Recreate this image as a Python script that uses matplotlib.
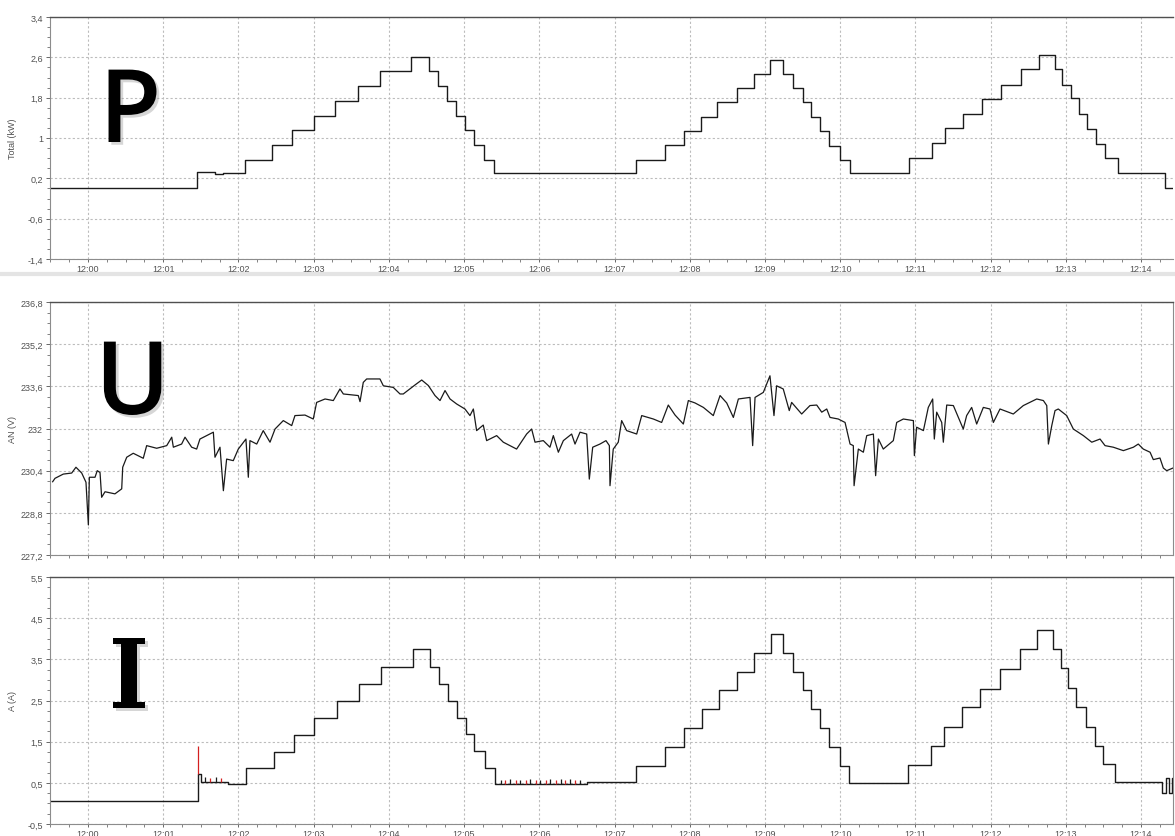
import matplotlib
matplotlib.use("Agg")
import matplotlib.pyplot as plt
import matplotlib.patheffects as pe
from matplotlib.ticker import FixedLocator, FuncFormatter, MultipleLocator, AutoMinorLocator
from matplotlib.lines import Line2D

# time axis: seconds after 12:00:00
T_MIN, T_MAX = -30.3, 865.5
X_TICKS = [0, 60, 120, 180, 240, 300, 360, 420, 480, 540, 600, 660, 720, 780, 840]

# P - total power (kW), step changes (time, new level)
P_T = [-30.3, 87, 101, 108, 125, 146.5, 163, 180, 197, 215, 233, 258, 272, 279.5,
       286, 293.5, 300.5, 308, 316, 324, 437.5, 460, 475.5, 489, 502, 517.5, 531,
       544, 554.5, 562.5, 570, 577, 584, 591, 600, 608, 655, 673.5, 684, 698, 713,
       728, 744, 758.5, 771, 777, 784, 790.5, 797, 804, 811, 821.5, 859.5, 865.5]
P_V = [0.0, 0.33, 0.28, 0.31, 0.56, 0.86, 1.16, 1.44, 1.74, 2.03, 2.33, 2.60, 2.32, 2.03,
       1.74, 1.44, 1.16, 0.87, 0.57, 0.30, 0.56, 0.86, 1.13, 1.42, 1.71, 1.99, 2.27,
       2.55, 2.27, 1.99, 1.71, 1.42, 1.13, 0.85, 0.56, 0.30, 0.60, 0.90, 1.19, 1.47, 1.77,
       2.06, 2.37, 2.65, 2.37, 2.06, 1.79, 1.47, 1.18, 0.88, 0.60, 0.31, 0.0, 0.0]

# U - phase voltage AN (V)
U_T = [-28.2, -26.3, -19.7, -13.0, -9.6, -5.0, -1.6, 0.3, 1.1, 5.6, 7.4, 9.6, 10.9, 13.6,
       21.5, 26.9, 27.7, 30.9, 36.1, 44.1, 46.8, 54.8, 62.8, 66.8, 68.1, 74.7, 77.4, 82.7,
       86.7, 89.3, 100, 101.3, 105.3, 108, 110.6, 115.9, 119.9, 126, 127.9, 129.2, 134.6,
       139.8, 145.2, 149.2, 155.8, 162.5, 165.1, 173.1, 179.7, 182.4, 189.1, 195.7, 201,
       203.7, 215.6, 217, 219.6, 222.3, 232.9, 235.6, 243.5, 248.9,
       251.5, 260.8, 266.2, 271.5, 276.8, 280.8, 284.8, 288.8, 294.1, 300.7, 304.7, 307.4,
       310, 315.3, 318, 326, 331.3, 341.9, 349.9, 353.9, 356.6, 363.2, 368.5, 371.2, 375.2,
       379.2, 385.8, 388.5, 392.5, 397.8, 399.9, 402.6, 408.4, 413.2, 415.9, 416.4, 419,
       423, 425.7, 429.7, 437.7, 441.7, 451, 457.6, 462.9, 468.3, 474.9, 478.9, 484.2,
       490.9, 498.8, 504.2, 509.5, 514.8, 518.8, 528.1, 530.2, 532.1, 538.7, 544, 547.2,
       549.3, 554.6, 559.4,
       561.3, 569.3, 575.9, 581.3, 585.3, 589.3, 591.9, 598.5, 603.9, 607.9, 610.5, 611.1,
       614.5, 618.5, 621.2, 626.5, 628.3, 630.5, 634.4, 642.4, 645.1, 650.4, 658.4, 659.2,
       661, 666.4, 670.3, 673.8, 675.1, 677, 681, 682.3, 685, 690.3, 698.2, 700.9, 704.9,
       708.9, 714.2, 719.5, 722.2, 727.5, 738.1, 746.1, 756.8, 762.1, 764.8, 766.1, 768.8,
       771.4, 774, 780.7, 786, 794, 800.7, 807.3, 811.3, 817.9, 825.9, 833.9, 837.8, 841.8,
       847.2, 849.8, 855.1, 857.8, 860.5, 865.5]
U_V = [229.98, 230.11, 230.27, 230.31, 230.53, 230.31, 229.96, 228.34, 230.15, 230.15, 230.40,
       230.33, 229.39, 229.60, 229.52, 229.71, 230.53, 230.91, 231.06, 230.87, 231.35, 231.25,
       231.35, 231.67, 231.29, 231.41, 231.67, 231.29, 231.22, 231.60, 231.86, 230.91, 231.29,
       229.64, 230.84, 230.78, 231.22, 231.60, 230.15, 231.54, 231.41, 231.92, 231.48, 231.98,
       232.30, 232.11, 232.49, 232.51, 232.36, 232.99, 233.12, 233.06, 233.50, 233.31, 233.25,
       233.02, 233.75, 233.88, 233.88, 233.62, 233.56, 233.31,
       233.31, 233.65, 233.84, 233.63, 233.25, 233.06, 233.44, 233.12, 232.93, 232.74, 232.49,
       232.74, 231.92, 232.13, 231.54, 231.73, 231.48, 231.22, 231.79, 231.98, 231.48, 231.54,
       231.29, 231.73, 231.10, 231.54, 231.79, 231.41, 231.86, 231.79, 230.08, 231.29, 231.41,
       231.54, 231.35, 229.83, 231.22, 231.48, 232.30, 231.92, 231.79, 232.49, 232.36, 232.23,
       232.89, 232.51, 232.17, 233.06, 232.97, 232.80, 232.49, 233.25, 232.97, 232.42, 233.12,
       233.18, 231.35, 233.18, 233.37, 234.00, 232.49, 233.62, 233.50, 232.68,
       232.99, 232.55, 232.87, 232.89, 232.62, 232.74, 232.42, 232.36, 232.23, 231.41, 231.35,
       229.83, 231.22, 231.10, 231.73, 231.79, 230.21, 231.60, 231.22, 231.54, 232.23, 232.36,
       232.30, 230.97, 232.05, 231.92, 232.80, 233.12, 231.60, 232.62, 232.23, 231.48, 232.89,
       232.87, 231.98, 232.49, 232.80, 232.17, 232.80, 232.74, 232.23, 232.74, 232.55, 232.87,
       233.12, 233.06, 232.87, 231.41, 232.11, 232.68, 232.74, 232.49, 231.98, 231.73, 231.48,
       231.60, 231.35, 231.29, 231.16, 231.29, 231.41, 231.22, 231.10, 230.82, 230.88, 230.50,
       230.40, 230.50]

# I - current (A), step changes (time, new level)
I_T = [-30.3, 87.5, 90, 100, 112, 126, 148, 164.5, 180.5, 199, 216, 233.5, 259.5, 273,
       280, 287, 294, 301.5, 308, 316.5, 324.5, 398, 437.5, 460, 475.5, 489.5, 503, 517.5,
       531, 545, 554.5, 562.5, 570, 577, 584, 591, 600, 607, 654, 672.5, 683, 697.5, 711.5,
       727.5, 743.5, 757, 769.5, 776, 782, 788.5, 796, 803, 810, 819, 857, 860, 862, 864.5,
       865.5]
I_V = [0.07, 0.72, 0.53, 0.52, 0.47, 0.86, 1.26, 1.67, 2.07, 2.49, 2.89, 3.32, 3.76, 3.32,
       2.91, 2.49, 2.08, 1.68, 1.28, 0.86, 0.47, 0.51, 0.92, 1.38, 1.83, 2.29, 2.75, 3.19,
       3.66, 4.12, 3.66, 3.20, 2.75, 2.29, 1.83, 1.38, 0.92, 0.49, 0.94, 1.40, 1.86, 2.33, 2.79,
       3.27, 3.74, 4.22, 3.76, 3.30, 2.81, 2.34, 1.86, 1.40, 0.95, 0.53, 0.25, 0.62, 0.25, 0.62,
       0.62]

# short spikes on the current trace
I_SPK_T = [87.5, 93, 97, 102, 106, 329.2, 332.6, 336.6, 341.2, 344.6, 349.2, 352.6, 357.1,
           360.6, 365.1, 368.6, 373.1, 377.1, 380.5, 384.5, 388.5, 392.5]
I_SPK_LO = [0.72, 0.53, 0.53, 0.52, 0.52, 0.47, 0.47, 0.47, 0.47, 0.47, 0.47, 0.47, 0.47,
            0.47, 0.47, 0.47, 0.47, 0.47, 0.47, 0.47, 0.47, 0.47]
I_SPK_HI = [1.40, 0.65, 0.62, 0.63, 0.62, 0.58, 0.56, 0.59, 0.57, 0.58, 0.56, 0.59, 0.57,
            0.58, 0.56, 0.60, 0.58, 0.60, 0.57, 0.59, 0.58, 0.57]

P_TICKS = [-1.4, -0.6, 0.2, 1.0, 1.8, 2.6, 3.4]
U_TICKS = [227.2, 228.8, 230.4, 232.0, 233.6, 235.2, 236.8]
I_TICKS = [-0.5, 0.5, 1.5, 2.5, 3.5, 4.5, 5.5]

W, H = 1175, 837
TICK_COLOR = "#505050"
GRID_COLOR = "#bcbcbc"
LINE_COLOR = "#1a1a1a"


def comma(v, pos):
    return "{:g}".format(round(v, 2)).replace(".", ",")


def clock(t, pos):
    return "12:%02d" % int(round(t / 60.0))


def setup_axis(ax, ticks, ylabel, show_xlabels):
    ax.set_xlim(T_MIN, T_MAX)
    ax.set_ylim(ticks[0], ticks[-1])
    ax.yaxis.set_major_locator(FixedLocator(ticks))
    ax.yaxis.set_major_formatter(FuncFormatter(comma))
    ax.yaxis.set_minor_locator(AutoMinorLocator(4))
    ax.xaxis.set_major_locator(FixedLocator(X_TICKS))
    ax.xaxis.set_minor_locator(MultipleLocator(15))
    if show_xlabels:
        ax.xaxis.set_major_formatter(FuncFormatter(clock))
    else:
        ax.set_xticklabels([])
    ax.tick_params(axis="both", which="major", labelsize=6.5, colors=TICK_COLOR,
                   length=3, width=0.6, pad=2)
    ax.tick_params(axis="x", which="major", length=2.5, pad=1)
    ax.tick_params(axis="both", which="minor", length=2, width=0.5, colors=TICK_COLOR)
    ax.grid(True, which="major", color=GRID_COLOR, linestyle=(0, (2, 2)), linewidth=0.8)
    for side in ["left", "bottom", "right"]:
        ax.spines[side].set_color("#8c8c8c")
        ax.spines[side].set_linewidth(0.8)
    ax.spines["top"].set_color("#505050")
    ax.spines["top"].set_linewidth(1.0)
    ax.set_ylabel(ylabel, fontsize=6.5, color=TICK_COLOR)
    ax.yaxis.set_label_coords(-33.0 / 1123, 0.5)


def big_letter(fig, s, x, y, **kw):
    fig.text(x / W, 1 - y / H, s, ha="left", va="baseline", color="black",
             path_effects=[pe.withSimplePatchShadow(offset=(2, -2), shadow_rgbFace="#999999", alpha=0.4)],
             **kw)


def main():
    plt.rcParams["font.family"] = ["Liberation Sans", "DejaVu Sans"]
    fig = plt.figure(figsize=(W / 100, H / 100), dpi=100)

    left = 50 / W
    width = (1173 - 50) / W
    ax_p = fig.add_axes([left, 1 - 260 / H, width, (260 - 18) / H])
    ax_u = fig.add_axes([left, 1 - 556 / H, width, (556 - 303) / H])
    ax_i = fig.add_axes([left, 1 - 825 / H, width, (825 - 578) / H])

    setup_axis(ax_p, P_TICKS, "Total (kW)", True)
    setup_axis(ax_u, U_TICKS, "AN (V)", False)
    setup_axis(ax_i, I_TICKS, "A (A)", True)
    ax_p.spines["right"].set_visible(False)

    ax_p.plot(P_T, P_V, drawstyle="steps-post", color=LINE_COLOR, lw=1.0)
    ax_u.plot(U_T, U_V, color=LINE_COLOR, lw=0.9)
    ax_i.plot(I_T, I_V, drawstyle="steps-post", color=LINE_COLOR, lw=1.0)
    cols = ["#d42020" if k % 2 == 0 else LINE_COLOR for k in range(len(I_SPK_T))]
    ax_i.vlines(I_SPK_T, I_SPK_LO, I_SPK_HI, colors=cols, lw=0.9)

    # light strip separating the power panel from the rest
    fig.add_artist(Line2D([0, 1], [1 - 275 / H, 1 - 275 / H], transform=fig.transFigure,
                          color="#e4e4e4", lw=3))

    big_letter(fig, "P", 99, 143, fontsize=73, family="Open Sans", fontweight="semibold")
    big_letter(fig, "U", 95, 415, fontsize=73, family="Open Sans", fontweight="semibold")
    big_letter(fig, "I", 109, 709, fontsize=69, family="DejaVu Serif", fontweight="bold",
               fontstretch="condensed")

    fig.savefig("out.png", dpi=100)


if __name__ == "__main__":
    main()
